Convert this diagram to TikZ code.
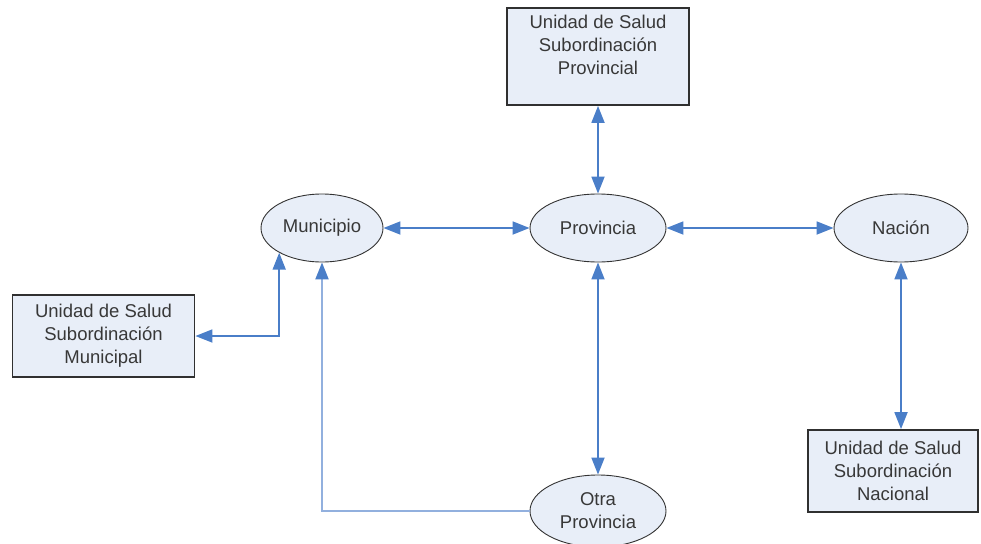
\documentclass[tikz,border=0pt]{standalone}
\usepackage{fontspec}
\setmainfont{Liberation Sans}
\usetikzlibrary{shapes.geometric,arrows.meta}
\definecolor{nodefill}{HTML}{E8EEF8}
\definecolor{linkblue}{HTML}{4A7EC8}
\definecolor{linklight}{HTML}{92B0DE}
\definecolor{boxedge}{HTML}{303030}
\tikzset{
  unitbox/.style={draw=boxedge, line width=1.8pt, fill=nodefill, minimum width=182pt, minimum height=82pt, inner sep=0pt},
  level/.style={ellipse, draw=black!80, line width=0.9pt, fill=nodefill, inner sep=0pt},
  lbl/.style={align=center, text=black!78, font=\fontsize{18.5}{23}\selectfont},
  link/.style={draw=linkblue, line width=1.8pt, {Triangle[length=17pt,width=13pt]}-{Triangle[length=17pt,width=13pt]}},
  linkone/.style={draw=linklight, line width=2.2pt, -{Triangle[length=17pt,width=13pt,color=linkblue]}}
}
\begin{document}
\begin{tikzpicture}[x=1pt,y=-1pt]
\useasboundingbox (0,0) rectangle (981,543);
% administrative levels
\node[level, minimum width=122pt, minimum height=68pt, lbl] (mun) at (322,228) {Municipio};
\node[level, minimum width=136pt, minimum height=68pt, lbl] (prov) at (598,228) {Provincia};
\node[level, minimum width=134pt, minimum height=68pt, lbl] (nac) at (901,228) {Nación};
\node[level, minimum width=136pt, minimum height=72pt, lbl] (otra) at (598,511) {Otra\\Provincia};
% health units
\node[unitbox, minimum height=97pt] (pbox) at (598,56.5) {};
\node[lbl] (pboxt) at (598,45) {Unidad de Salud\\Subordinación\\Provincial};
\node[unitbox, lbl] (mbox) at (103.5,336) {Unidad de Salud\\Subordinación\\Municipal};
\node[unitbox, lbl, minimum width=170pt] (nbox) at (893,471) {Unidad de Salud\\Subordinación\\Nacional};
% connections
\draw[link] (pbox.south) -- (prov.north);
\draw[link] (mun.east) -- (prov.west);
\draw[link] (prov.east) -- (nac.west);
\draw[link] (prov.south) -- (otra.north);
\draw[link] (nac.south) -- (nac.south |- nbox.north);
\draw[link] (mbox.east) -| (mun.210);
\draw[linkone] (otra.west) -| (mun.270);
\end{tikzpicture}
\end{document}
